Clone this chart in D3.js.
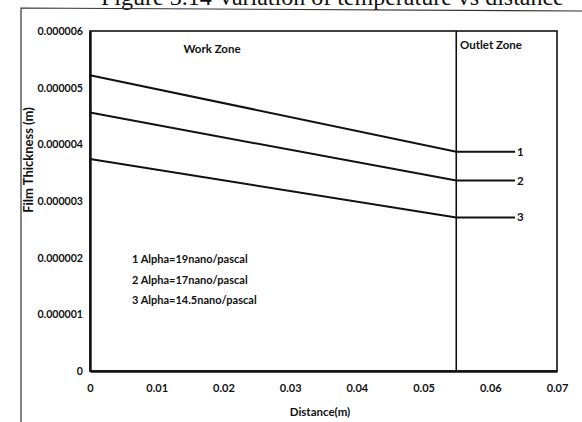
<!DOCTYPE html>
<html>
<head>
<meta charset="utf-8">
<script src="https://cdn.jsdelivr.net/npm/d3@7"></script>
<style>
  html, body { margin: 0; padding: 0; background: #fff; }
  svg { display: block; }
  text { font-family: Lato, "Open Sans", "DejaVu Sans", sans-serif; font-weight: 700; fill: #111; }
</style>
</head>
<body>
<svg id="chart" width="582" height="422"></svg>
<script>
// Film thickness along the roll bite for three pressure-viscosity coefficients
const distance = [0, 0.0549, 0.0637];          // m: inlet, end of work zone, outlet end
const thickness1 = [5.22e-6, 3.87e-6, 3.87e-6];
const thickness2 = [4.56e-6, 3.36e-6, 3.36e-6];
const thickness3 = [3.74e-6, 2.71e-6, 2.71e-6];
const seriesNames = ["1", "2", "3"];
const legendLines = ["1 Alpha=19nano/pascal", "2 Alpha=17nano/pascal", "3 Alpha=14.5nano/pascal"];
const zoneBoundary = 0.0549;                   // m: work zone / outlet zone
const zoneNames = ["Work Zone", "Outlet Zone"];
const xTicks = [0, 0.01, 0.02, 0.03, 0.04, 0.05, 0.06, 0.07];
const yTicks = [0, 0.000001, 0.000002, 0.000003, 0.000004, 0.000005, 0.000006];
const yTickLabels = ["0", "0.000001", "0.000002", "0.000003", "0.000004", "0.000005", "0.000006"];
const titleText = "Figure 3.14 Variation of temperature vs distance";

const series = [thickness1, thickness2, thickness3];

const svg = d3.select("#chart");
const plot = { left: 90, right: 557, top: 31, bottom: 371 };

const x = d3.scaleLinear().domain([0, 0.07]).range([plot.left, plot.right]);
const y = d3.scaleLinear().domain([0, 0.000006]).range([plot.bottom, plot.top]);

// page caption running above the figure frame
svg.append("text")
  .attr("x", 101).attr("y", 5)
  .style("font-family", "'Liberation Serif', 'DejaVu Serif', serif")
  .style("font-weight", 400)
  .style("font-size", "24px")
  .text(titleText);

// figure frame
svg.append("path")
  .attr("d", "M21,422 L21,8 L582,11")
  .attr("fill", "none")
  .attr("stroke", "#333")
  .attr("stroke-width", 1.2);

// plot box
svg.append("rect")
  .attr("x", plot.left).attr("y", plot.top)
  .attr("width", plot.right - plot.left).attr("height", plot.bottom - plot.top)
  .attr("fill", "none").attr("stroke", "#111").attr("stroke-width", 1.6);

// axes (labels only, no tick marks)
const xAxis = d3.axisBottom(x).tickValues(xTicks).tickSize(0).tickPadding(13)
  .tickFormat(d => d === 0 ? "0" : d3.format(".2f")(d));
const gx = svg.append("g").attr("transform", `translate(0,${plot.bottom})`).call(xAxis);
gx.select(".domain").attr("stroke", "#111").attr("stroke-width", 2.4);
gx.selectAll("text").style("font-size", "11px").style("font-family", null);

const yAxis = d3.axisLeft(y).tickValues(yTicks).tickSize(0).tickPadding(7)
  .tickFormat((d, i) => yTickLabels[i]);
const gy = svg.append("g").attr("transform", `translate(${plot.left},0)`).call(yAxis);
gy.select(".domain").attr("stroke", "#111").attr("stroke-width", 2.4);
gy.selectAll("text").style("font-size", "10.6px").style("font-family", null);

// axis titles
svg.append("text")
  .attr("x", 320).attr("y", 416)
  .attr("text-anchor", "middle")
  .style("font-size", "11.5px")
  .text("Distance(m)");
svg.append("text")
  .attr("transform", `translate(33,160) rotate(-90)`)
  .attr("text-anchor", "middle")
  .style("font-size", "13px")
  .text("Film Thickness (m)");

// work zone / outlet zone divider
svg.append("line")
  .attr("x1", x(zoneBoundary)).attr("x2", x(zoneBoundary))
  .attr("y1", plot.top).attr("y2", plot.bottom)
  .attr("stroke", "#111").attr("stroke-width", 1.6);

svg.append("text")
  .attr("x", 212).attr("y", 53)
  .attr("text-anchor", "middle")
  .style("font-size", "11.5px")
  .text(zoneNames[0]);
svg.append("text")
  .attr("x", 491).attr("y", 49)
  .attr("text-anchor", "middle")
  .style("font-size", "11.5px")
  .text(zoneNames[1]);

// film thickness curves
const line = d3.line()
  .x((d, i) => x(distance[i]))
  .y(d => y(d));

svg.selectAll(".curve")
  .data(series)
  .join("path")
  .attr("class", "curve")
  .attr("d", d => line(d))
  .attr("fill", "none")
  .attr("stroke", "#111")
  .attr("stroke-width", 2);

// curve numbers at the outlet end
svg.selectAll(".curve-label")
  .data(series)
  .join("text")
  .attr("class", "curve-label")
  .attr("x", d => x(distance[distance.length - 1]) + 2)
  .attr("y", d => y(d[d.length - 1]) + 4)
  .style("font-size", "11.5px")
  .text((d, i) => seriesNames[i]);

// legend text
svg.selectAll(".legend")
  .data(legendLines)
  .join("text")
  .attr("class", "legend")
  .attr("x", 132)
  .attr("y", (d, i) => 263 + i * 20.5)
  .style("font-size", "11px")
  .text(d => d);
</script>
</body>
</html>
